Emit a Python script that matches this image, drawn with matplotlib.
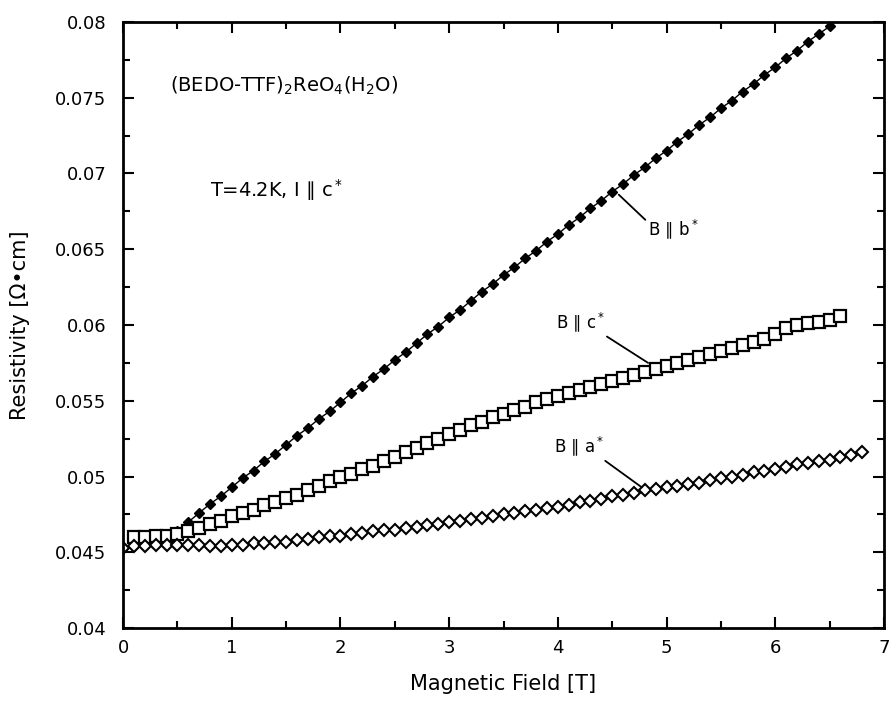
import numpy as np
import matplotlib
matplotlib.use("Agg")
import matplotlib.pyplot as plt

# B || b* (filled diamonds)
field_b = [0.0, 0.1, 0.2, 0.3, 0.4, 0.5, 0.6, 0.7, 0.8, 0.9,
           1.0, 1.1, 1.2, 1.3, 1.4, 1.5, 1.6, 1.7, 1.8, 1.9,
           2.0, 2.1, 2.2, 2.3, 2.4, 2.5, 2.6, 2.7, 2.8, 2.9,
           3.0, 3.1, 3.2, 3.3, 3.4, 3.5, 3.6, 3.7, 3.8, 3.9,
           4.0, 4.1, 4.2, 4.3, 4.4, 4.5, 4.6, 4.7, 4.8, 4.9,
           5.0, 5.1, 5.2, 5.3, 5.4, 5.5, 5.6, 5.7, 5.8, 5.9,
           6.0, 6.1, 6.2, 6.3, 6.4, 6.5]
rho_b = [0.0453, 0.0454, 0.0455, 0.0456, 0.0459, 0.0464, 0.0470, 0.0476, 0.0482, 0.0487,
         0.0493, 0.0499, 0.0504, 0.0510, 0.0515, 0.0521, 0.0527, 0.0532, 0.0538, 0.0543,
         0.0549, 0.0555, 0.0560, 0.0566, 0.0571, 0.0577, 0.0582, 0.0588, 0.0594, 0.0599,
         0.0605, 0.0610, 0.0616, 0.0622, 0.0627, 0.0633, 0.0638, 0.0644, 0.0649, 0.0655,
         0.0660, 0.0666, 0.0671, 0.0677, 0.0682, 0.0688, 0.0693, 0.0699, 0.0704, 0.0710,
         0.0715, 0.0721, 0.0726, 0.0732, 0.0737, 0.0743, 0.0748, 0.0754, 0.0759, 0.0765,
         0.0770, 0.0776, 0.0781, 0.0787, 0.0792, 0.0797]

# B || c* (open squares)
field_c = [0.1, 0.2, 0.3, 0.4, 0.5, 0.6, 0.7, 0.8, 0.9,
           1.0, 1.1, 1.2, 1.3, 1.4, 1.5, 1.6, 1.7, 1.8, 1.9,
           2.0, 2.1, 2.2, 2.3, 2.4, 2.5, 2.6, 2.7, 2.8, 2.9,
           3.0, 3.1, 3.2, 3.3, 3.4, 3.5, 3.6, 3.7, 3.8, 3.9,
           4.0, 4.1, 4.2, 4.3, 4.4, 4.5, 4.6, 4.7, 4.8, 4.9,
           5.0, 5.1, 5.2, 5.3, 5.4, 5.5, 5.6, 5.7, 5.8, 5.9,
           6.0, 6.1, 6.2, 6.3, 6.4, 6.5, 6.6]
rho_c = [0.0460, 0.0460, 0.0461, 0.0461, 0.0462, 0.0464, 0.0466, 0.0469, 0.0471,
         0.0474, 0.0476, 0.0478, 0.0481, 0.0483, 0.0486, 0.0488, 0.0491, 0.0494, 0.0497,
         0.0500, 0.0502, 0.0505, 0.0507, 0.0510, 0.0513, 0.0516, 0.0519, 0.0522, 0.0525,
         0.0528, 0.0531, 0.0534, 0.0536, 0.0539, 0.0541, 0.0544, 0.0546, 0.0549, 0.0551,
         0.0553, 0.0555, 0.0557, 0.0559, 0.0561, 0.0563, 0.0565, 0.0567, 0.0569, 0.0571,
         0.0573, 0.0575, 0.0577, 0.0579, 0.0581, 0.0583, 0.0585, 0.0587, 0.0589, 0.0591,
         0.0594, 0.0598, 0.0600, 0.0601, 0.0602, 0.0603, 0.0606]

# B || a* (open diamonds)
field_a = [0.0, 0.1, 0.2, 0.3, 0.4, 0.5, 0.6, 0.7, 0.8, 0.9,
           1.0, 1.1, 1.2, 1.3, 1.4, 1.5, 1.6, 1.7, 1.8, 1.9,
           2.0, 2.1, 2.2, 2.3, 2.4, 2.5, 2.6, 2.7, 2.8, 2.9,
           3.0, 3.1, 3.2, 3.3, 3.4, 3.5, 3.6, 3.7, 3.8, 3.9,
           4.0, 4.1, 4.2, 4.3, 4.4, 4.5, 4.6, 4.7, 4.8, 4.9,
           5.0, 5.1, 5.2, 5.3, 5.4, 5.5, 5.6, 5.7, 5.8, 5.9,
           6.0, 6.1, 6.2, 6.3, 6.4, 6.5, 6.6, 6.7, 6.8]
rho_a = [0.0453, 0.0454, 0.0454, 0.0455, 0.0455, 0.0455, 0.0455, 0.0455, 0.0454, 0.0454,
         0.0455, 0.0455, 0.0456, 0.0456, 0.0457, 0.0457, 0.0458, 0.0459, 0.0460, 0.0461,
         0.0461, 0.0462, 0.0463, 0.0464, 0.0465, 0.0465, 0.0466, 0.0467, 0.0468, 0.0469,
         0.0470, 0.0471, 0.0472, 0.0473, 0.0474, 0.0475, 0.0476, 0.0477, 0.0478, 0.0479,
         0.0480, 0.0481, 0.0483, 0.0484, 0.0485, 0.0487, 0.0488, 0.0489, 0.0491, 0.0492,
         0.0493, 0.0494, 0.0495, 0.0496, 0.0498, 0.0499, 0.0500, 0.0501, 0.0503, 0.0504,
         0.0505, 0.0506, 0.0508, 0.0509, 0.0510, 0.0511, 0.0513, 0.0514, 0.0516]

xticks = [0, 1, 2, 3, 4, 5, 6, 7]
yticks = [0.04, 0.045, 0.05, 0.055, 0.06, 0.065, 0.07, 0.075, 0.08]
ytick_labels = ["0.04", "0.045", "0.05", "0.055", "0.06", "0.065", "0.07", "0.075", "0.08"]

plt.rcParams['font.family'] = ['DejaVu Sans']

fig = plt.figure(figsize=(8.92, 7.05), dpi=100)
ax = fig.add_axes([0.138, 0.109, 0.853, 0.860])

ax.plot(field_b, rho_b, color='black', lw=1.0, marker='D', ms=5.5,
        mfc='black', mec='black')
ax.plot(field_c, rho_c, color='black', lw=0.8, marker='s', ms=8,
        mfc='white', mec='black', mew=1.6)
ax.plot(field_a, rho_a, color='black', lw=0.8, marker='D', ms=5.8,
        mfc='white', mec='black', mew=1.5)

ax.set_xlim(0, 7)
ax.set_ylim(0.04, 0.08)
ax.set_xticks(xticks)
ax.set_yticks(yticks)
ax.set_yticklabels(ytick_labels)
ax.set_xticks(np.arange(0.5, 7, 1.0), minor=True)
ax.set_yticks(np.arange(0.0425, 0.08, 0.005), minor=True)
ax.tick_params(which='both', direction='in', top=True, right=True,
               width=1.5, labelsize=13)
ax.tick_params(axis='x', pad=8)
ax.tick_params(axis='y', pad=12)
ax.tick_params(which='major', length=8)
ax.tick_params(which='minor', length=5)
for s in ax.spines.values():
    s.set_linewidth(2)

ax.set_xlabel("Magnetic Field [T]", fontsize=15, labelpad=12)
ax.set_ylabel("Resistivity [Ω•cm]", fontsize=15, labelpad=18)

ax.text(0.43, 0.0758, r"(BEDO-TTF)$_2$ReO$_4$(H$_2$O)", fontsize=14,
        va='center', ha='left')
ax.text(0.8, 0.0689, r"T=4.2K, I ∥ c$^*$", fontsize=14, va='center', ha='left')

ax.annotate(r"B ∥ b$^*$", xy=(4.56, 0.0686), xytext=(4.83, 0.0663),
            fontsize=12, va='center', ha='left',
            arrowprops=dict(arrowstyle='-', color='black', lw=1.3,
                            shrinkA=0, shrinkB=0, relpos=(0, 0.8)))
ax.annotate(r"B ∥ c$^*$", xy=(4.83, 0.0575), xytext=(3.98, 0.0602),
            fontsize=12, va='center', ha='left',
            arrowprops=dict(arrowstyle='-', color='black', lw=1.3,
                            shrinkA=0, shrinkB=0, relpos=(0.95, 0)))
ax.annotate(r"B ∥ a$^*$", xy=(4.77, 0.0493), xytext=(3.96, 0.0520),
            fontsize=12, va='center', ha='left',
            arrowprops=dict(arrowstyle='-', color='black', lw=1.3,
                            shrinkA=0, shrinkB=0, relpos=(0.95, 0)))

fig.savefig("out.png", dpi=100)
